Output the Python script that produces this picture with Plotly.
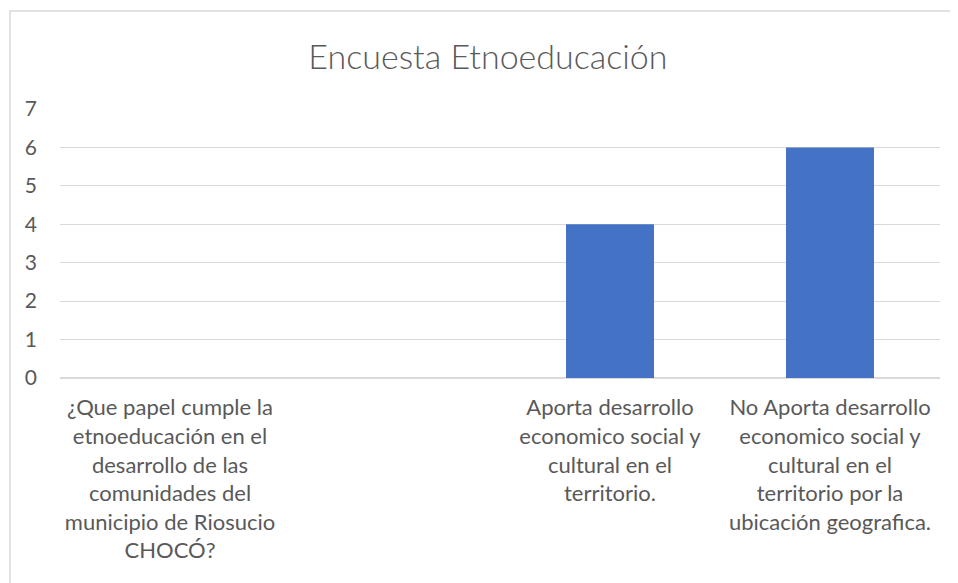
import plotly.graph_objects as go

categories = [
    "¿Que papel cumple la<br>etnoeducación en el<br>desarrollo de las<br>comunidades del<br>municipio de Riosucio<br>CHOCÓ?",
    " ",
    "Aporta desarrollo<br>economico social y<br>cultural en el<br>territorio.",
    "No Aporta desarrollo<br>economico social y<br>cultural en el<br>territorio por la<br>ubicación geografica.",
]
values = [None, None, 4, 6]
y_ticks = [0, 1, 2, 3, 4, 5, 6, 7]

FONT = "Lato"
TEXT = "#595959"
GRID = "#d9d9d9"

fig = go.Figure()
fig.add_trace(go.Bar(
    x=categories,
    y=values,
    marker=dict(color="#4472C4", line=dict(width=0)),
    showlegend=False,
))

# outer chart border (cropped on right and bottom)
fig.add_shape(
    type="rect", xref="paper", yref="paper",
    x0=-0.0568, x1=1.2, y0=-1.5, y1=1.364,
    line=dict(color="#d9d9d9", width=1.5),
    fillcolor="rgba(0,0,0,0)", layer="below",
)

fig.update_layout(
    width=958,
    height=583,
    paper_bgcolor="white",
    plot_bgcolor="white",
    margin=dict(l=52, r=26, t=101, b=213),
    bargap=0.6,
    title=dict(
        text="Encuesta Etnoeducación",
        x=0.501, xref="container", xanchor="center",
        y=1 - 49 / 583, yref="container", yanchor="middle",
        font=dict(family=FONT, size=34, color=TEXT, weight=300),
    ),
    font=dict(family=FONT, size=22, color=TEXT),
    xaxis=dict(
        type="category",
        showgrid=False,
        showline=True,
        linecolor=GRID,
        linewidth=1,
        ticks="",
        tickangle=0,
        ticklabelstandoff=10,
        tickfont=dict(family=FONT, size=22, color=TEXT),
    ),
    yaxis=dict(
        range=[0, 7],
        tickvals=y_ticks,
        showgrid=True,
        gridcolor=GRID,
        gridwidth=1,
        zeroline=True,
        zerolinecolor=GRID,
        showline=False,
        ticks="",
        ticklabelstandoff=22,
        tickfont=dict(family=FONT, size=21, color=TEXT),
    ),
)

fig.write_html("out.html")
